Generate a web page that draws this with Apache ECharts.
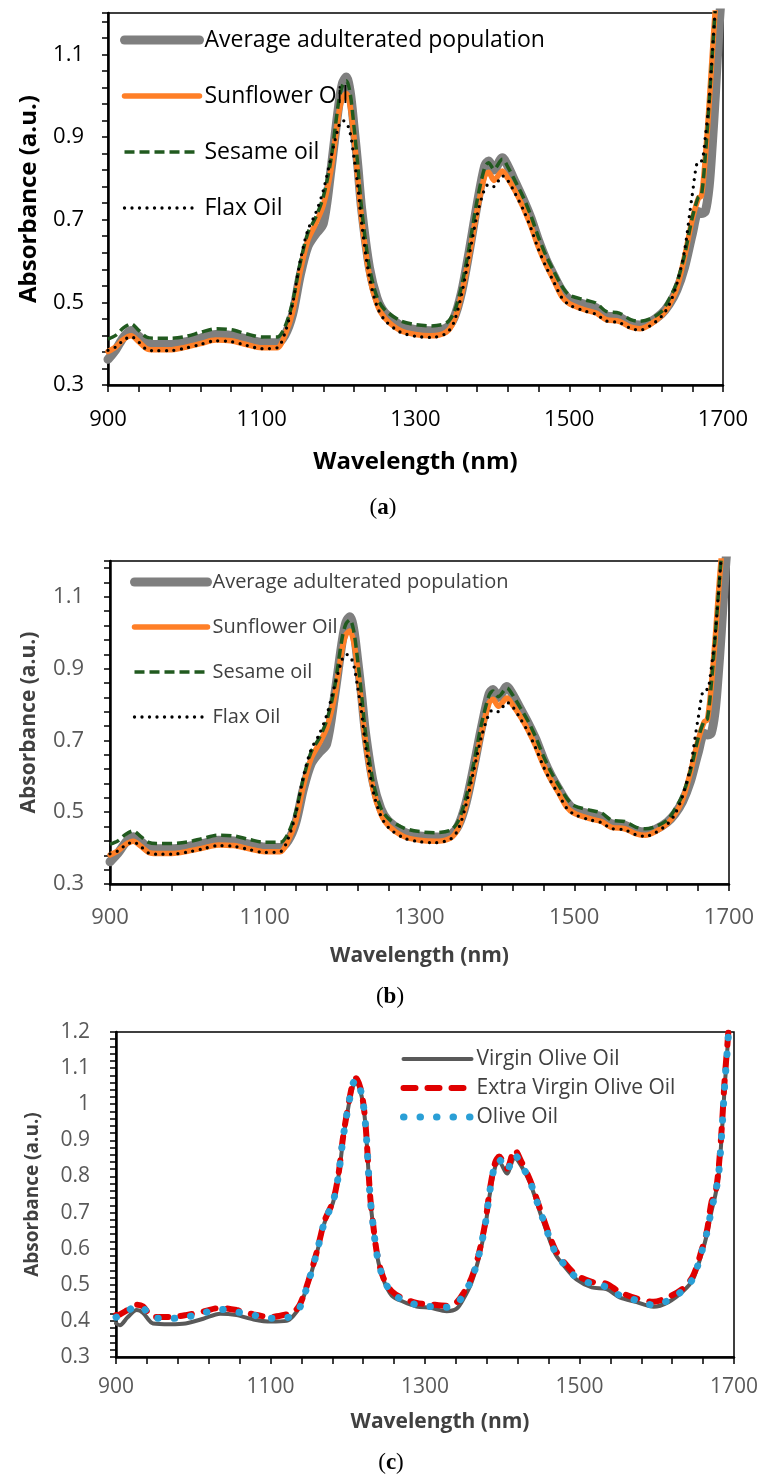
<!DOCTYPE html>
<html>
<head>
<meta charset="utf-8">
<script src="https://cdn.jsdelivr.net/npm/echarts@6/dist/echarts.min.js"></script>
<style>
  html, body { margin: 0; padding: 0; background: #fff; }
  #chart { width: 763px; height: 1475px; }
</style>
</head>
<body>
<div id="chart"></div>
<script>
// panels (a) and (b) share the same spectra
const wlAB = [900, 910, 920, 930, 940, 950, 960, 980, 1000, 1020, 1040, 1060, 1080, 1100, 1120,
  1130, 1140, 1150, 1160, 1170, 1180, 1190, 1200, 1205, 1210, 1215, 1220, 1225, 1230,
  1240, 1250, 1260, 1280, 1300, 1320, 1340, 1350, 1360, 1370, 1380, 1390, 1395, 1402, 1413, 1420,
  1430, 1440, 1450, 1460, 1470, 1480, 1490, 1500, 1520, 1535, 1548, 1565, 1580, 1592, 1605, 1620,
  1630, 1640, 1650, 1660, 1668, 1672, 1677, 1682, 1686, 1690, 1695, 1700]
const avgPopulation = [0.362, 0.385, 0.415, 0.432, 0.418, 0.401, 0.398, 0.398, 0.404, 0.413, 0.422, 0.420, 0.411, 0.403, 0.402,
  0.420, 0.470, 0.565, 0.635, 0.665, 0.690, 0.820, 0.975, 1.030, 1.045, 1.010, 0.925, 0.830, 0.725,
  0.585, 0.510, 0.475, 0.445, 0.434, 0.431, 0.438, 0.462, 0.525, 0.625, 0.735, 0.830, 0.842, 0.820, 0.850, 0.830,
  0.790, 0.750, 0.705, 0.650, 0.603, 0.565, 0.530, 0.508, 0.495, 0.487, 0.468, 0.464, 0.449, 0.445, 0.452, 0.472,
  0.495, 0.530, 0.585, 0.665, 0.720, 0.715, 0.720, 0.780, 0.880, 1.000, 1.170, 1.300]
const sunflowerOil = [0.381, 0.392, 0.410, 0.419, 0.405, 0.388, 0.385, 0.385, 0.391, 0.400, 0.409, 0.407, 0.398, 0.390, 0.390,
  0.420, 0.475, 0.575, 0.650, 0.690, 0.735, 0.820, 0.955, 0.995, 1.005, 0.975, 0.900, 0.800, 0.700,
  0.565, 0.495, 0.462, 0.432, 0.422, 0.419, 0.428, 0.455, 0.520, 0.615, 0.720, 0.805, 0.815, 0.795, 0.818, 0.800,
  0.768, 0.730, 0.685, 0.633, 0.590, 0.553, 0.515, 0.497, 0.482, 0.474, 0.458, 0.454, 0.440, 0.436, 0.446, 0.468,
  0.494, 0.535, 0.610, 0.700, 0.752, 0.757, 0.850, 0.980, 1.100, 1.210, 1.320, 1.420]
const sesameOil = [0.411, 0.420, 0.438, 0.448, 0.432, 0.416, 0.413, 0.413, 0.417, 0.427, 0.436, 0.434, 0.424, 0.416, 0.416,
  0.440, 0.500, 0.595, 0.668, 0.705, 0.755, 0.845, 0.985, 1.025, 1.036, 1.005, 0.925, 0.830, 0.725,
  0.585, 0.512, 0.482, 0.456, 0.446, 0.443, 0.450, 0.475, 0.540, 0.635, 0.745, 0.826, 0.838, 0.822, 0.846, 0.828,
  0.792, 0.755, 0.710, 0.657, 0.612, 0.575, 0.540, 0.518, 0.506, 0.498, 0.478, 0.474, 0.458, 0.454, 0.460, 0.478,
  0.508, 0.548, 0.615, 0.705, 0.755, 0.760, 0.855, 0.985, 1.100, 1.210, 1.320, 1.420]
const flaxOil = [0.384, 0.392, 0.408, 0.417, 0.404, 0.386, 0.383, 0.383, 0.389, 0.398, 0.407, 0.405, 0.396, 0.388, 0.390,
  0.425, 0.495, 0.600, 0.675, 0.715, 0.770, 0.850, 0.925, 0.940, 0.935, 0.910, 0.850, 0.780, 0.690,
  0.560, 0.490, 0.457, 0.428, 0.418, 0.415, 0.425, 0.452, 0.520, 0.615, 0.710, 0.775, 0.785, 0.780, 0.806, 0.795,
  0.762, 0.725, 0.680, 0.628, 0.585, 0.549, 0.512, 0.494, 0.479, 0.471, 0.455, 0.451, 0.437, 0.433, 0.443, 0.466,
  0.494, 0.545, 0.625, 0.760, 0.842, 0.842, 0.900, 0.990, 1.100, 1.210, 1.320, 1.420]

// panel (c)
const wlC = [900, 905, 915, 927, 935, 948, 970, 990, 1013, 1035, 1056, 1078, 1100, 1121, 1130, 1138,
  1149, 1160, 1170, 1181, 1188, 1194, 1201, 1207, 1211, 1218, 1223, 1229, 1233, 1238, 1246, 1257,
  1272, 1289, 1307, 1328, 1341, 1350, 1360, 1369, 1378, 1384, 1391, 1396, 1406, 1416, 1425, 1436,
  1449, 1468, 1481, 1496, 1516, 1535, 1552, 1574, 1596, 1615, 1634, 1647, 1658, 1665, 1671, 1676,
  1680, 1684, 1688, 1693, 1700]
const virginOliveOil = [0.393, 0.388, 0.410, 0.430, 0.422, 0.393, 0.391, 0.393, 0.406, 0.420, 0.416, 0.404, 0.398, 0.400, 0.415, 0.440,
  0.505, 0.588, 0.672, 0.728, 0.800, 0.900, 0.995, 1.050, 1.060, 1.022, 0.940, 0.740, 0.660, 0.580, 0.515, 0.470,
  0.453, 0.440, 0.436, 0.427, 0.434, 0.462, 0.505, 0.568, 0.660, 0.752, 0.828, 0.840, 0.808, 0.852, 0.828, 0.782,
  0.700, 0.588, 0.550, 0.515, 0.493, 0.488, 0.465, 0.452, 0.439, 0.452, 0.482, 0.515, 0.585, 0.640, 0.705, 0.750,
  0.800, 0.910, 1.050, 1.200, 1.450]
const extraVirginOliveOil = [0.416, 0.418, 0.430, 0.445, 0.440, 0.411, 0.411, 0.416, 0.426, 0.436, 0.430, 0.418, 0.411, 0.418, 0.425, 0.445,
  0.510, 0.592, 0.677, 0.732, 0.806, 0.910, 1.000, 1.062, 1.072, 1.030, 0.945, 0.745, 0.665, 0.585, 0.520, 0.482,
  0.462, 0.450, 0.446, 0.442, 0.452, 0.478, 0.518, 0.580, 0.672, 0.765, 0.840, 0.855, 0.822, 0.874, 0.840, 0.790,
  0.710, 0.600, 0.560, 0.527, 0.508, 0.503, 0.480, 0.462, 0.453, 0.466, 0.490, 0.525, 0.595, 0.650, 0.730, 0.755,
  0.820, 0.930, 1.070, 1.210, 1.450]
const oliveOil = [0.410, 0.414, 0.428, 0.440, 0.437, 0.408, 0.407, 0.410, 0.422, 0.432, 0.425, 0.416, 0.407, 0.409, 0.418, 0.437,
  0.507, 0.590, 0.675, 0.730, 0.804, 0.907, 0.998, 1.058, 1.068, 1.026, 0.943, 0.742, 0.662, 0.582, 0.518, 0.478,
  0.457, 0.445, 0.440, 0.438, 0.447, 0.474, 0.513, 0.575, 0.668, 0.760, 0.836, 0.846, 0.817, 0.860, 0.832, 0.786,
  0.705, 0.593, 0.554, 0.520, 0.503, 0.494, 0.471, 0.457, 0.444, 0.457, 0.485, 0.518, 0.590, 0.645, 0.710, 0.755,
  0.805, 0.915, 1.055, 1.200, 1.450]

// tick labels
const xTickLabels = ['900', '1100', '1300', '1500', '1700']
const yTickLabelsAB = ['0.3', '0.5', '0.7', '0.9', '1.1']
const yTickLabelsC = ['0.3', '0.4', '0.5', '0.6', '0.7', '0.8', '0.9', '1', '1.1', '1.2']

const namesAB = ['Average adulterated population', 'Sunflower Oil', 'Sesame oil', 'Flax Oil']
const namesC = ['Virgin Olive Oil', 'Extra Virgin Olive Oil', 'Olive Oil']

const FONT = "'Open Sans', 'Noto Sans', sans-serif"
const SERIF = "'Liberation Serif', 'DejaVu Serif', serif"

function pairs (xs, ys) {
  return xs.map((x, i) => [x, ys[i]])
}

function findLabel (list, v) {
  const hit = list.find(l => Math.abs(Number(l) - v) < 1e-6)
  return hit === undefined ? '' : hit
}

function xAxisFor (gi, s) {
  return {
    type: 'value',
    gridIndex: gi,
    min: 900,
    max: 1700,
    interval: 40,
    axisLine: { show: true, onZero: false, lineStyle: { color: '#000', width: 2.5 } },
    axisTick: { show: true, inside: false, length: 7, lineStyle: { color: '#000', width: 1.5 } },
    splitLine: { show: false },
    axisLabel: {
      margin: s.margin,
      color: s.color,
      fontFamily: FONT,
      fontSize: s.size,
      formatter: v => findLabel(xTickLabels, v)
    },
    name: 'Wavelength (nm)',
    nameLocation: 'middle',
    nameGap: s.nameGap,
    nameTextStyle: {
      fontFamily: FONT,
      fontWeight: 'bold',
      fontSize: s.nameSize,
      color: s.nameColor,
      padding: s.namePadding || 0
    }
  }
}

function yAxisFor (gi, s) {
  return {
    type: 'value',
    gridIndex: gi,
    min: 0.3,
    max: 1.2,
    interval: s.step,
    axisLine: { show: true, onZero: false, lineStyle: { color: '#000', width: 2.5 } },
    axisTick: { show: true, inside: false, length: 6, lineStyle: { color: '#000', width: 1.5 } },
    splitLine: { show: false },
    axisLabel: {
      margin: s.margin,
      color: s.color,
      fontFamily: FONT,
      fontSize: s.size,
      formatter: v => findLabel(s.labels, v)
    },
    name: 'Absorbance (a.u.)',
    nameLocation: 'middle',
    nameRotate: 90,
    nameGap: s.nameGap,
    nameTextStyle: {
      fontFamily: FONT,
      fontWeight: 'bold',
      fontSize: s.nameSize,
      color: s.nameColor
    }
  }
}

function line (name, xs, ys, gi, style) {
  return {
    name: name,
    type: 'line',
    xAxisIndex: gi,
    yAxisIndex: gi,
    data: pairs(xs, ys),
    symbol: 'none',
    smooth: 0.3,
    color: style.color,
    lineStyle: style,
    emphasis: { disabled: true },
    silent: true
  }
}

const avgStyle = { color: '#7f7f7f', width: 9, cap: 'round', join: 'round' }
const sunStyle = { color: '#ff7f27', width: 5.5, cap: 'round', join: 'round' }
const sesStyle = { color: '#215a1f', width: 3.5, type: [10, 5] }
const flaxStyle = { color: '#000000', width: 3.3, type: [0, 7.5], cap: 'round' }
const virginStyle = { color: '#595959', width: 4, cap: 'round', join: 'round' }
const evooStyle = { color: '#e00000', width: 6, type: [12, 12], cap: 'round' }
const oliveStyle = { color: '#2a9fd6', width: 7, type: [0.5, 16], cap: 'round' }

function legendFor (names, s) {
  return {
    data: names,
    orient: 'vertical',
    left: s.left,
    top: s.top,
    itemWidth: s.itemWidth,
    itemHeight: 14,
    itemGap: s.gap,
    selectedMode: false,
    padding: 0,
    lineStyle: { width: 'inherit' },
    itemStyle: { color: 'rgba(0,0,0,0)', borderWidth: 0, opacity: 0 },
    textStyle: { fontFamily: FONT, fontSize: s.size, color: s.color, lineHeight: s.lh }
  }
}

function caption (letter, x, y) {
  return {
    type: 'text',
    x: x,
    y: y,
    style: {
      text: '{p|(}{b|' + letter + '}{p|)}',
      align: 'center',
      verticalAlign: 'middle',
      rich: {
        p: { fontFamily: SERIF, fontSize: 23, fill: '#000' },
        b: { fontFamily: SERIF, fontSize: 23, fontWeight: 'bold', fill: '#000' }
      }
    }
  }
}

const chart = echarts.init(document.getElementById('chart'), null, { renderer: 'canvas' })
chart.setOption({
  animation: false,
  backgroundColor: '#fff',
  grid: [
    { left: 108, top: 13, width: 615, height: 372, show: true, borderColor: '#000', borderWidth: 1.5 },
    { left: 110, top: 561, width: 619, height: 323, show: true, borderColor: '#000', borderWidth: 1.5 },
    { left: 116, top: 1032, width: 618, height: 325, show: true, borderColor: '#000', borderWidth: 1.5 }
  ],
  xAxis: [
    xAxisFor(0, { margin: 24, color: '#000', size: 22, nameGap: 65, nameSize: 24, nameColor: '#000' }),
    xAxisFor(1, { margin: 23, color: '#595959', size: 22, nameGap: 62, nameSize: 21, nameColor: '#404040' }),
    xAxisFor(2, { margin: 20, color: '#595959', size: 21, nameGap: 55, nameSize: 21, nameColor: '#404040', namePadding: [0, 0, 0, 30] })
  ],
  yAxis: [
    yAxisFor(0, { step: 0.04, labels: yTickLabelsAB, margin: 24, color: '#000', size: 22, nameGap: 67, nameSize: 24, nameColor: '#000' }),
    yAxisFor(1, { step: 0.04, labels: yTickLabelsAB, margin: 26, color: '#595959', size: 22, nameGap: 70, nameSize: 21, nameColor: '#404040' }),
    yAxisFor(2, { step: 0.02, labels: yTickLabelsC, margin: 26, color: '#595959', size: 21, nameGap: 74, nameSize: 19, nameColor: '#404040' })
  ],
  legend: [
    legendFor(namesAB, { left: 120, top: 27, itemWidth: 75, gap: 30, size: 23, color: '#000', lh: 26 }),
    legendFor(namesAB, { left: 130, top: 571, itemWidth: 73, gap: 23, size: 20, color: '#404040', lh: 22 }),
    legendFor(namesC, { left: 400, top: 1048, itemWidth: 68, gap: 7, size: 21, color: '#404040', lh: 22 })
  ],
  series: [
    line(namesAB[0], wlAB, avgPopulation, 0, avgStyle),
    line(namesAB[1], wlAB, sunflowerOil, 0, sunStyle),
    line(namesAB[2], wlAB, sesameOil, 0, sesStyle),
    line(namesAB[3], wlAB, flaxOil, 0, flaxStyle),
    line(namesAB[0], wlAB, avgPopulation, 1, avgStyle),
    line(namesAB[1], wlAB, sunflowerOil, 1, sunStyle),
    line(namesAB[2], wlAB, sesameOil, 1, sesStyle),
    line(namesAB[3], wlAB, flaxOil, 1, flaxStyle),
    line(namesC[0], wlC, virginOliveOil, 2, virginStyle),
    line(namesC[1], wlC, extraVirginOliveOil, 2, evooStyle),
    line(namesC[2], wlC, oliveOil, 2, oliveStyle)
  ],
  graphic: [
    caption('a', 383, 508),
    caption('b', 390, 997),
    caption('c', 391, 1463)
  ]
})
</script>
</body>
</html>
